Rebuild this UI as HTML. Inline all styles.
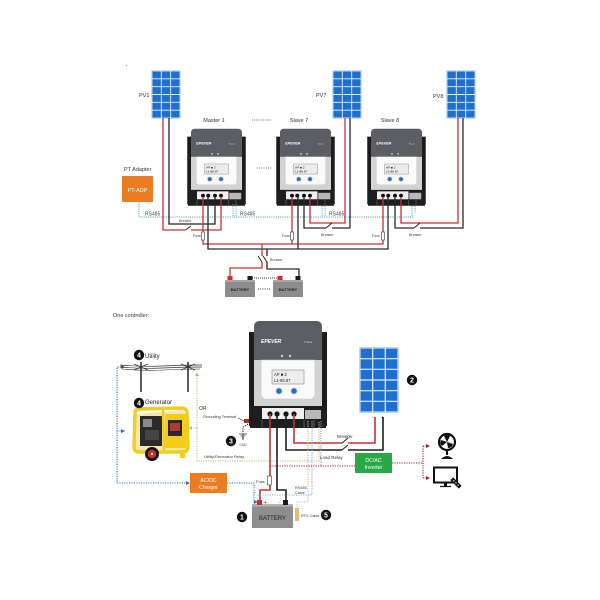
<!DOCTYPE html>
<html>
<head>
<meta charset="utf-8">
<style>
html,body{margin:0;padding:0;background:#fff;}
svg{display:block;}
text{font-family:"Liberation Sans",sans-serif;}
</style>
</head>
<body>
<svg width="600" height="600" viewBox="0 0 600 600" xmlns="http://www.w3.org/2000/svg">
<rect width="600" height="600" fill="#fff"/>
<rect x="126" y="65" width="1" height="1" fill="#999"/>

<!-- ================= TOP SECTION ================= -->
<g stroke="#e8f1fb" stroke-width="0.9">
  <rect x="152" y="71" width="28" height="47" fill="#1f6fd0" stroke="#a9c9ec" stroke-width="1.2"/>
  <path d="M161.3 71V118M170.7 71V118M152 78.8H180M152 86.7H180M152 94.5H180M152 102.3H180M152 110.2H180"/>
  <rect x="333" y="71" width="28" height="47" fill="#1f6fd0" stroke="#a9c9ec" stroke-width="1.2"/>
  <path d="M342.3 71V118M351.7 71V118M333 78.8H361M333 86.7H361M333 94.5H361M333 102.3H361M333 110.2H361"/>
  <rect x="447" y="71" width="28" height="47" fill="#1f6fd0" stroke="#a9c9ec" stroke-width="1.2"/>
  <path d="M456.3 71V118M465.7 71V118M447 78.8H475M447 86.7H475M447 94.5H475M447 102.3H475M447 110.2H475"/>
</g>
<text x="139" y="97" font-size="5.5" fill="#333">PV1</text>
<text x="316" y="97" font-size="5.5" fill="#333">PV7</text>
<text x="433" y="98" font-size="5.5" fill="#333">PV8</text>

<text x="214" y="122" font-size="5.5" fill="#333" text-anchor="middle">Master 1</text>
<text x="299" y="122" font-size="5.5" fill="#333" text-anchor="middle">Slave 7</text>
<text x="390" y="122" font-size="5.5" fill="#333" text-anchor="middle">Slave 8</text>
<line x1="252" y1="120" x2="272" y2="120" stroke="#444" stroke-width="0.8" stroke-dasharray="1 1.2"/>
<line x1="257" y1="168" x2="272" y2="168" stroke="#444" stroke-width="0.8" stroke-dasharray="1 1.2"/>

<g transform="translate(186.5,128) scale(0.75,0.72)">
  <rect x="1" y="12" width="6" height="94" fill="#1c1c1c"/>
  <rect x="73" y="12" width="6" height="94" fill="#1c1c1c"/>
  <rect x="6" y="1" width="68" height="90" rx="5" fill="#5d5e63"/>
  <rect x="6" y="40" width="68" height="46" fill="#d3d3d5"/>
  <path d="M13 40H67V74Q67 79 62 79H18Q13 79 13 74Z" fill="#fafafa" stroke="#c4c4c4" stroke-width="0.6"/>
  <rect x="24" y="50" width="32" height="14" fill="#ececec" stroke="#8a8a8a" stroke-width="0.6"/>
  <text x="26" y="56" font-size="4.2" fill="#222">AP ■ 2</text>
  <text x="26" y="62" font-size="4.2" fill="#222">L1-88.87</text>
  <circle cx="31" cy="71" r="3" fill="#2b6cc4" stroke="#a8c4e6" stroke-width="0.8"/>
  <circle cx="46" cy="71" r="3" fill="#2b6cc4" stroke="#a8c4e6" stroke-width="0.8"/>
  <circle cx="34" cy="36" r="1.2" fill="#ccc"/><circle cx="42" cy="36" r="1.2" fill="#ccc"/>
  <text x="13" y="23" font-size="5" fill="#fff" font-style="italic" font-weight="bold">EPEVER</text>
  <text x="56" y="23" font-size="3" fill="#ddd">Tracer</text>
  <rect x="2" y="86" width="76" height="22" fill="#1e1e1e"/>
  <rect x="14" y="88" width="42" height="11" fill="#efefef"/>
  <circle cx="22" cy="94" r="2.6" fill="#111"/><circle cx="29" cy="94" r="2.6" fill="#111"/>
  <circle cx="38" cy="94" r="2.6" fill="#111"/><circle cx="46" cy="94" r="2.6" fill="#111"/>
  <rect x="57" y="90" width="16" height="9" fill="#b8b8b8"/>
  <path d="M14 100V108M56 100V108M66 100V108" stroke="#666" stroke-width="0.8"/>
</g>
<g transform="translate(275.5,128) scale(0.75,0.72)">
  <rect x="1" y="12" width="6" height="94" fill="#1c1c1c"/>
  <rect x="73" y="12" width="6" height="94" fill="#1c1c1c"/>
  <rect x="6" y="1" width="68" height="90" rx="5" fill="#5d5e63"/>
  <rect x="6" y="40" width="68" height="46" fill="#d3d3d5"/>
  <path d="M13 40H67V74Q67 79 62 79H18Q13 79 13 74Z" fill="#fafafa" stroke="#c4c4c4" stroke-width="0.6"/>
  <rect x="24" y="50" width="32" height="14" fill="#ececec" stroke="#8a8a8a" stroke-width="0.6"/>
  <text x="26" y="56" font-size="4.2" fill="#222">AP ■ 2</text>
  <text x="26" y="62" font-size="4.2" fill="#222">L1-88.87</text>
  <circle cx="31" cy="71" r="3" fill="#2b6cc4" stroke="#a8c4e6" stroke-width="0.8"/>
  <circle cx="46" cy="71" r="3" fill="#2b6cc4" stroke="#a8c4e6" stroke-width="0.8"/>
  <circle cx="34" cy="36" r="1.2" fill="#ccc"/><circle cx="42" cy="36" r="1.2" fill="#ccc"/>
  <text x="13" y="23" font-size="5" fill="#fff" font-style="italic" font-weight="bold">EPEVER</text>
  <text x="56" y="23" font-size="3" fill="#ddd">Tracer</text>
  <rect x="2" y="86" width="76" height="22" fill="#1e1e1e"/>
  <rect x="14" y="88" width="42" height="11" fill="#efefef"/>
  <circle cx="22" cy="94" r="2.6" fill="#111"/><circle cx="29" cy="94" r="2.6" fill="#111"/>
  <circle cx="38" cy="94" r="2.6" fill="#111"/><circle cx="46" cy="94" r="2.6" fill="#111"/>
  <rect x="57" y="90" width="16" height="9" fill="#b8b8b8"/>
  <path d="M14 100V108M56 100V108M66 100V108" stroke="#666" stroke-width="0.8"/>
</g>
<g transform="translate(366.5,128) scale(0.75,0.72)">
  <rect x="1" y="12" width="6" height="94" fill="#1c1c1c"/>
  <rect x="73" y="12" width="6" height="94" fill="#1c1c1c"/>
  <rect x="6" y="1" width="68" height="90" rx="5" fill="#5d5e63"/>
  <rect x="6" y="40" width="68" height="46" fill="#d3d3d5"/>
  <path d="M13 40H67V74Q67 79 62 79H18Q13 79 13 74Z" fill="#fafafa" stroke="#c4c4c4" stroke-width="0.6"/>
  <rect x="24" y="50" width="32" height="14" fill="#ececec" stroke="#8a8a8a" stroke-width="0.6"/>
  <text x="26" y="56" font-size="4.2" fill="#222">AP ■ 2</text>
  <text x="26" y="62" font-size="4.2" fill="#222">L1-88.87</text>
  <circle cx="31" cy="71" r="3" fill="#2b6cc4" stroke="#a8c4e6" stroke-width="0.8"/>
  <circle cx="46" cy="71" r="3" fill="#2b6cc4" stroke="#a8c4e6" stroke-width="0.8"/>
  <circle cx="34" cy="36" r="1.2" fill="#ccc"/><circle cx="42" cy="36" r="1.2" fill="#ccc"/>
  <text x="13" y="23" font-size="5" fill="#fff" font-style="italic" font-weight="bold">EPEVER</text>
  <text x="56" y="23" font-size="3" fill="#ddd">Tracer</text>
  <rect x="2" y="86" width="76" height="22" fill="#1e1e1e"/>
  <rect x="14" y="88" width="42" height="11" fill="#efefef"/>
  <circle cx="22" cy="94" r="2.6" fill="#111"/><circle cx="29" cy="94" r="2.6" fill="#111"/>
  <circle cx="38" cy="94" r="2.6" fill="#111"/><circle cx="46" cy="94" r="2.6" fill="#111"/>
  <rect x="57" y="90" width="16" height="9" fill="#b8b8b8"/>
  <path d="M14 100V108M56 100V108M66 100V108" stroke="#666" stroke-width="0.8"/>
</g>

<text x="124" y="171" font-size="5.5" fill="#333">PT Adapter</text>
<rect x="122" y="176" width="31" height="26" fill="#ec7c22"/>
<text x="137.5" y="192" font-size="5.5" fill="#fff" text-anchor="middle">PT-ADP</text>

<g stroke="#3a9fae" stroke-width="1" stroke-dasharray="1 1.2" fill="none">
  <path d="M139 202V217H414"/>
  <path d="M233 204V217M236 204V217"/>
  <path d="M322 206V217M325 206V217"/>
  <path d="M412 206V217M415 206V213"/>
</g>
<text x="145" y="215.5" font-size="5" fill="#444">RS485</text>
<text x="240" y="215.5" font-size="5" fill="#444">RS485</text>
<text x="329" y="215.5" font-size="5" fill="#444">RS485</text>

<g fill="none" stroke-width="1.3">
  <path d="M163 118V230H185.5M191 230H221V197" stroke="#c8312c"/>
  <path d="M185.5 230L191 226" stroke="#222" stroke-width="1"/>
  <path d="M169 118V224H215V197" stroke="#222"/>
  <path d="M203 197V244H383V197" stroke="#c8312c"/>
  <path d="M292 197V244" stroke="#c8312c"/>
  <path d="M208 197V249H388V197" stroke="#2a2a2a"/>
  <path d="M298 197V249" stroke="#2a2a2a"/>
  <path d="M310 197V223H345V118" stroke="#c8312c"/>
  <path d="M304 197V228H326M332 228H350V118" stroke="#2a2a2a"/>
  <path d="M326 228L332 223" stroke="#222" stroke-width="1"/>
  <path d="M401 197V223H458V118" stroke="#c8312c"/>
  <path d="M395 197V228H414M420 228H463V118" stroke="#2a2a2a"/>
  <path d="M414 228L420 223" stroke="#222" stroke-width="1"/>
  <path d="M262 244V256M262 262V268H230V277" stroke="#c8312c"/>
  <path d="M267 249V256M267 262V269H299V277" stroke="#2a2a2a"/>
  <path d="M258 256L262 262M263 256L267 262" stroke="#222" stroke-width="1"/>
</g>
<g fill="#fff" stroke="#333" stroke-width="0.6">
  <rect x="201.5" y="232" width="3" height="8"/>
  <rect x="290.5" y="232" width="3" height="8"/>
  <rect x="381.5" y="232" width="3" height="8"/>
</g>
<g font-size="3.6" fill="#444">
  <text x="193" y="237">Fuse</text>
  <text x="282" y="237">Fuse</text>
  <text x="372" y="237">Fuse</text>
  <text x="179" y="222">Breaker</text>
  <text x="321" y="236">Breaker</text>
  <text x="409" y="236">Breaker</text>
  <text x="270" y="261">Breaker</text>
</g>
<line x1="252" y1="278" x2="280" y2="278" stroke="#333" stroke-width="1" stroke-dasharray="1 1"/>
<rect x="225" y="280" width="30" height="17" fill="#8c8c8c"/>
<rect x="225" y="280" width="30" height="2" fill="#a8a8a8"/>
<rect x="273" y="280" width="30" height="17" fill="#8c8c8c"/>
<rect x="273" y="280" width="30" height="2" fill="#a8a8a8"/>
<rect x="227.5" y="276" width="5" height="4" fill="#d42a2a"/>
<rect x="247.5" y="276" width="5" height="4" fill="#1a1a1a"/>
<rect x="277.5" y="276" width="5" height="4" fill="#d42a2a"/>
<rect x="295.5" y="276" width="5" height="4" fill="#1a1a1a"/>
<text x="240" y="291" font-size="4" fill="#222" text-anchor="middle" font-weight="bold">BATTERY</text>
<text x="288" y="291" font-size="4" fill="#222" text-anchor="middle" font-weight="bold">BATTERY</text>
<line x1="258" y1="289" x2="270" y2="289" stroke="#333" stroke-width="0.9" stroke-dasharray="1 1.2"/>

<!-- ================= BOTTOM SECTION ================= -->
<text x="113" y="317" font-size="5.5" fill="#333">One controller:</text>

<g transform="translate(248,320)">
  <rect x="1" y="12" width="6" height="94" fill="#1c1c1c"/>
  <rect x="73" y="12" width="6" height="94" fill="#1c1c1c"/>
  <rect x="6" y="1" width="68" height="90" rx="5" fill="#5d5e63"/>
  <rect x="6" y="40" width="68" height="46" fill="#d3d3d5"/>
  <path d="M13 40H67V74Q67 79 62 79H18Q13 79 13 74Z" fill="#fafafa" stroke="#c4c4c4" stroke-width="0.6"/>
  <rect x="24" y="50" width="32" height="14" fill="#ececec" stroke="#8a8a8a" stroke-width="0.6"/>
  <text x="26" y="56" font-size="4.2" fill="#222">AP ■ 2</text>
  <text x="26" y="62" font-size="4.2" fill="#222">L1-88.87</text>
  <circle cx="31" cy="71" r="3" fill="#2b6cc4" stroke="#a8c4e6" stroke-width="0.8"/>
  <circle cx="46" cy="71" r="3" fill="#2b6cc4" stroke="#a8c4e6" stroke-width="0.8"/>
  <circle cx="34" cy="36" r="1.2" fill="#ccc"/><circle cx="42" cy="36" r="1.2" fill="#ccc"/>
  <text x="13" y="23" font-size="5" fill="#fff" font-style="italic" font-weight="bold">EPEVER</text>
  <text x="56" y="23" font-size="3" fill="#ddd">Tracer</text>
  <rect x="2" y="86" width="76" height="22" fill="#1e1e1e"/>
  <rect x="14" y="88" width="42" height="11" fill="#efefef"/>
  <circle cx="22" cy="94" r="2.6" fill="#111"/><circle cx="29" cy="94" r="2.6" fill="#111"/>
  <circle cx="38" cy="94" r="2.6" fill="#111"/><circle cx="46" cy="94" r="2.6" fill="#111"/>
  <rect x="57" y="90" width="16" height="9" fill="#b8b8b8"/>
  <path d="M14 100V108M56 100V108M66 100V108" stroke="#666" stroke-width="0.8"/>
</g>
<rect x="244" y="419" width="5" height="4" fill="#b03030"/>

<rect x="360" y="348" width="38" height="64" fill="#1f6fd0" stroke="#a9c9ec" stroke-width="1.5"/>
<path d="M372.7 348V412M385.3 348V412M360 358.7H398M360 369.3H398M360 380H398M360 390.7H398M360 401.3H398" stroke="#e8f1fb" stroke-width="1.2"/>
<text x="372" y="419" font-size="5" fill="#333">-</text>
<text x="381" y="419" font-size="5" fill="#333">+</text>

<g fill="none" stroke-width="1.6">
  <path d="M294 414V443H342M348 443H375V417" stroke="#c8312c"/>
  <path d="M286 414V450H342M348 450H383V417" stroke="#1e1e1e"/>
  <path d="M342 443L348 438M342 450L348 445" stroke="#222" stroke-width="1"/>
  <path d="M270 414V490H260V500" stroke="#c8312c"/>
  <path d="M277 414V490H286V500" stroke="#1e1e1e"/>
</g>
<rect x="267.5" y="476" width="4" height="9" fill="#fff" stroke="#333" stroke-width="0.6"/>
<text x="337" y="438" font-size="4.5" fill="#333">Breaker</text>
<text x="256" y="483" font-size="4" fill="#333">Fuse</text>

<g fill="none" stroke-width="1.1" stroke-dasharray="1.2 1.2">
  <path d="M197 376V461H319V421" stroke="#c9b27c"/>
  <path d="M197 428H192" stroke="#c9b27c"/>
  <path d="M321 421V467" stroke="#999"/>
  <path d="M270 466H355" stroke="#8e2a2a"/>
  <path d="M392 463H423M423 446V478M423 446H427M423 478H427" stroke="#8e2a2a"/>
  <path d="M121 367H117V483H187" stroke="#2d6db5"/>
  <path d="M117 431H121" stroke="#2d6db5"/>
  <path d="M227 483H254V502H255" stroke="#2d6db5"/>
  <path d="M312 421V495H256" stroke="#7fb0dd"/>
  <path d="M308 421V502H297V507" stroke="#d4b483"/>
  <path d="M248 424L243 427V433" stroke="#333"/>
</g>
<g>
  <path d="M197 372L195 376H199Z" fill="#c9b27c"/>
  <path d="M189 428L192 426V430Z" fill="#c9b27c"/>
  <path d="M125 367L121 365V369Z" fill="#2d6db5"/>
  <path d="M125 431L121 429V433Z" fill="#2d6db5"/>
  <path d="M190 483L186 481V485Z" fill="#2d6db5"/>
  <path d="M258 502L254 500V504Z" fill="#2d6db5"/>
  <path d="M430 446L426 444V448Z" fill="#8e2a2a"/>
  <path d="M430 478L426 476V480Z" fill="#8e2a2a"/>
</g>

<g stroke="#555" stroke-width="0.9">
  <line x1="239" y1="434" x2="247" y2="434"/>
  <line x1="240.5" y1="436" x2="245.5" y2="436"/>
  <line x1="242" y1="438" x2="244" y2="438"/>
  <line x1="243" y1="433" x2="243" y2="440"/>
</g>
<text x="243" y="446" font-size="3.5" fill="#555" text-anchor="middle">GND</text>

<text x="199" y="410" font-size="5" fill="#333">OR</text>
<text x="203" y="418" font-size="3.8" fill="#333">Grounding Terminal</text>
<line x1="238" y1="418" x2="246" y2="422" stroke="#333" stroke-width="0.6"/>
<text x="204" y="458" font-size="4" fill="#333">Utility/Generator Relay</text>
<text x="320" y="459" font-size="4.5" fill="#333">Load Relay</text>
<text x="295" y="489" font-size="3.8" fill="#444">RS485</text>
<text x="295" y="494" font-size="3.8" fill="#444">Cable</text>

<rect x="355" y="453" width="37" height="20" fill="#2aa845"/>
<text x="373.5" y="462" font-size="5.2" fill="#fff" text-anchor="middle">DC/AC</text>
<text x="373.5" y="469" font-size="5.2" fill="#fff" text-anchor="middle">Inverter</text>
<rect x="190" y="473" width="37" height="20" fill="#ec7c22"/>
<text x="208.5" y="482" font-size="5.2" fill="#fff" text-anchor="middle">AC/DC</text>
<text x="208.5" y="489" font-size="5.2" fill="#fff" text-anchor="middle">Charger</text>

<rect x="252" y="504" width="41" height="24" fill="#8e8e8e"/>
<rect x="252" y="504" width="41" height="2.5" fill="#b3b3b3"/>
<rect x="257" y="500" width="5" height="5" fill="#d42a2a"/>
<rect x="283" y="500" width="5" height="5" fill="#1a1a1a"/>
<text x="264" y="504" font-size="5" fill="#333">+</text>
<text x="279" y="504" font-size="5" fill="#333">-</text>
<text x="272.5" y="520" font-size="6" fill="#222" text-anchor="middle">BATTERY</text>
<rect x="295" y="508" width="4" height="13" fill="#e8b87a"/>
<text x="301" y="517" font-size="3.8" fill="#444">RTS Cable</text>

<g stroke="#333" fill="none">
  <path d="M120 365Q141 367 162 366T202 365" stroke-width="0.7"/>
  <path d="M120 367Q141 369 162 368T202 367" stroke-width="0.7"/>
  <path d="M122 369Q141 371 164 370T200 369" stroke-width="0.6"/>
  <line x1="141" y1="362" x2="141" y2="392" stroke-width="1.6"/>
  <line x1="188" y1="362" x2="188" y2="392" stroke-width="1.6"/>
  <path d="M134 364L148 370M148 364L134 370M181 364L195 370M195 364L181 370" stroke-width="0.8"/>
</g>
<text x="145" y="358" font-size="6" fill="#222">Utility</text>
<text x="145" y="404" font-size="6" fill="#222">Generator</text>

<g>
  <path d="M136 414L182 410L188 416V447L181 453H139L134 447Z" fill="#f3e9b0"/>
  <rect x="140" y="416" width="22" height="30" fill="#2a2a2a"/>
  <rect x="143" y="419" width="9" height="8" fill="#8a8a8a"/>
  <rect x="145" y="430" width="14" height="10" fill="#444"/>
  <rect x="165" y="414" width="21" height="34" fill="#f2cd1c"/>
  <rect x="168" y="420" width="14" height="16" fill="#2a2a2a"/>
  <rect x="170" y="423" width="10" height="8" fill="#b23a30"/>
  <path d="M135 413Q135 409 140 409L181 408Q187 408 187 413L188 446Q188 452 183 452L139 452Q134 452 134 447Z" fill="none" stroke="#f2cd1c" stroke-width="3.4"/>
  <line x1="163" y1="409" x2="164" y2="452" stroke="#f2cd1c" stroke-width="2.6"/>
  <rect x="140" y="407" width="44" height="3" fill="#f2cd1c"/>
  <rect x="180" y="450" width="5" height="8" fill="#f2cd1c"/>
  <circle cx="152" cy="454" r="7" fill="#111"/>
  <circle cx="152" cy="454" r="4.2" fill="#d42a2a"/>
  <circle cx="152" cy="454" r="1.2" fill="#eee"/>
</g>

<g>
  <circle cx="447" cy="442" r="8" fill="#fff" stroke="#111" stroke-width="2.2"/>
  <path d="M447 442L444 436Q447 433 450 436Z" fill="#111"/>
  <path d="M447 442L453 444Q452 448 448 448Z" fill="#111"/>
  <path d="M447 442L442 446Q439 443 441 440Z" fill="#111"/>
  <rect x="446" y="450" width="2" height="5" fill="#111"/>
  <path d="M441 459Q447 453 453 459Z" fill="#111"/>
</g>
<g>
  <rect x="434" y="467.5" width="23" height="15" fill="#fff" stroke="#111" stroke-width="2"/>
  <rect x="444" y="483" width="3" height="3" fill="#111"/>
  <line x1="440" y1="486.5" x2="451" y2="486.5" stroke="#111" stroke-width="1.2"/>
  <g transform="translate(456,483) rotate(45)">
    <rect x="-6" y="-2" width="12" height="4" fill="#111"/>
    <circle cx="-3" cy="0" r="0.7" fill="#fff"/><circle cx="0" cy="0" r="0.7" fill="#fff"/><circle cx="3" cy="0" r="0.7" fill="#fff"/>
  </g>
</g>

<g font-size="7" font-weight="bold" fill="#fff" text-anchor="middle">
  <circle cx="139" cy="355" r="5.2" fill="#111"/><text x="139" y="357.5">4</text>
  <circle cx="139" cy="403" r="5.2" fill="#111"/><text x="139" y="405.5">4</text>
  <circle cx="231" cy="441" r="5.2" fill="#111"/><text x="231" y="443.5">3</text>
  <circle cx="242" cy="517" r="5.2" fill="#111"/><text x="242" y="519.5">1</text>
  <circle cx="326" cy="515" r="5.2" fill="#111"/><text x="326" y="517.5">5</text>
  <circle cx="412" cy="380" r="5.2" fill="#111"/><text x="412" y="382.5">2</text>
</g>
</svg>
</body>
</html>
